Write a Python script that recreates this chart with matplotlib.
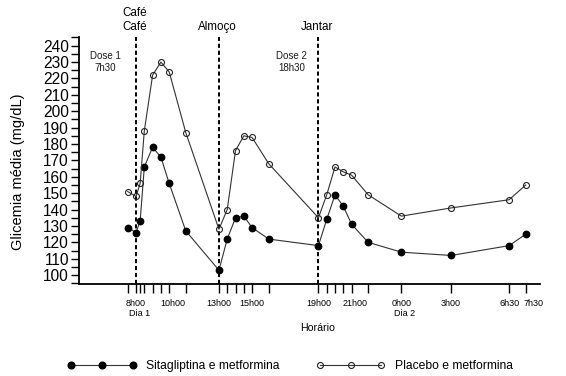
import matplotlib
matplotlib.use("Agg")
import matplotlib.pyplot as plt
from matplotlib.lines import Line2D
from matplotlib.ticker import FixedLocator, MultipleLocator
from matplotlib.transforms import ScaledTranslation

plt.rcParams['font.family'] = ['Liberation Sans', 'DejaVu Sans']
plt.rcParams['lines.scale_dashes'] = False

# ---- data ----
hours = [7.5, 8, 8.25, 8.5, 9, 9.5, 10, 11, 13, 13.5, 14, 14.5, 15, 16,
         19, 19.5, 20, 20.5, 21, 22, 24, 27, 30.5, 31.5]
sitagliptina = [129, 126, 133, 166, 178, 172, 156, 127, 103, 122, 135, 136, 129, 122,
                118, 134, 149, 142, 131, 120, 114, 112, 118, 125]
placebo = [151, 148, 156, 188, 222, 230, 224, 187, 128, 140, 176, 185, 184, 168,
           135, 149, 166, 163, 161, 149, 136, 141, 146, 155]
label_hours = [8, 10, 13, 15, 19, 21, 24, 27, 30.5, 31.5]
label_texts = ["8h00", "10h00", "13h00", "15h00", "19h00", "21h00", "0h00", "3h00", "6h30", "7h30"]
day_hours = [8, 24]
day_texts = ["Dia 1", "Dia 2"]
meal_hours = [8, 13, 19]
meal_texts = ["Café\nCafé", "Almoço", "Jantar"]
dose_hours = [6.16, 17.4]
dose_texts = ["Dose 1\n7h30", "Dose 2\n18h30"]
series_names = ["Sitagliptina e metformina", "Placebo e metformina"]

# layout: horizontal nudges (pixels) of some tick labels
label_nudge_px = {10: 4, 21: 3.5, 31.5: 8}

W, H = 566, 376
fig = plt.figure(figsize=(W / 100, H / 100), dpi=100)
ax = fig.add_axes([79.3 / W, 1 - 284.3 / H, (540 - 79.3) / W, (284.3 - 36.5) / H])

ax.set_xlim(4.58, 32.36)
ax.set_ylim(94.4, 245.6)

lc = "#333333"
ax.plot(hours, sitagliptina, color=lc, lw=0.8, marker='o', ms=4.6,
        mfc='black', mec='black', label=series_names[0], zorder=3)
ax.plot(hours, placebo, color=lc, lw=0.8, marker='o', ms=4.3,
        mfc='none', mec='#222222', mew=0.8, label=series_names[1], zorder=3)

for h in meal_hours:
    ax.axvline(h, color='black', lw=1.4, linestyle=(0, (3.0, 2.0)), zorder=2)

for h, t in zip(meal_hours, meal_texts):
    ax.text(h - 0.1, 1.014, t, transform=ax.get_xaxis_transform(), ha='center',
            va='bottom', fontsize=8.4, linespacing=1.25)

for h, t in zip(dose_hours, dose_texts):
    ax.text(h, 0.897, t, transform=ax.get_xaxis_transform(), ha='center',
            va='center', fontsize=7.0, color='#1a1a1a', linespacing=1.2)

# axes styling
for s in ['top', 'right']:
    ax.spines[s].set_visible(False)
for s in ['left', 'bottom']:
    ax.spines[s].set_linewidth(1.3)

ax.xaxis.set_major_locator(FixedLocator(hours))
ax.set_xticks(hours)
ax.set_xticklabels([label_texts[label_hours.index(h)] if h in label_hours else "" for h in hours])
ax.tick_params(axis='x', direction='out', length=6.5, width=1.0, pad=4.0, labelsize=6.5)
for h, lab in zip(hours, ax.get_xticklabels()):
    if h in label_nudge_px:
        lab.set_transform(lab.get_transform() +
                          ScaledTranslation(label_nudge_px[h] / 100, 0, fig.dpi_scale_trans))

ax.yaxis.set_major_locator(MultipleLocator(10))
ax.yaxis.set_minor_locator(MultipleLocator(5))
ax.set_ylim(94.4, 245.6)
ax.tick_params(axis='y', which='both', direction='out', length=5.5, width=1.0, pad=2.0, labelsize=11.2)

for h, t in zip(day_hours, day_texts):
    ax.text(h + 0.2, -0.117, t, transform=ax.get_xaxis_transform(), ha='center',
            va='center', fontsize=6.5)

fig.text(318 / W, 1 - 328 / H, "Horário", ha='center', va='center', fontsize=7.6)
fig.text(18 / W, 1 - 172 / H, "Glicemia média (mg/dL)", ha='center', va='center',
         rotation=90, fontsize=10.5)

handles = [
    Line2D([], [], color=lc, lw=0.8, marker='o', ms=4.8, mfc='black', mec='black'),
    Line2D([], [], color=lc, lw=0.8, marker='o', ms=4.3, mfc='none', mec='#222222', mew=0.8),
]
fig.legend(handles, series_names, ncol=2, numpoints=3, frameon=False, loc='center',
           bbox_to_anchor=(0.513, 1 - 366 / H), fontsize=8.7, handlelength=5.7,
           handletextpad=0.83, columnspacing=3.0, borderpad=0, borderaxespad=0)

fig.savefig("out.png", dpi=100)
